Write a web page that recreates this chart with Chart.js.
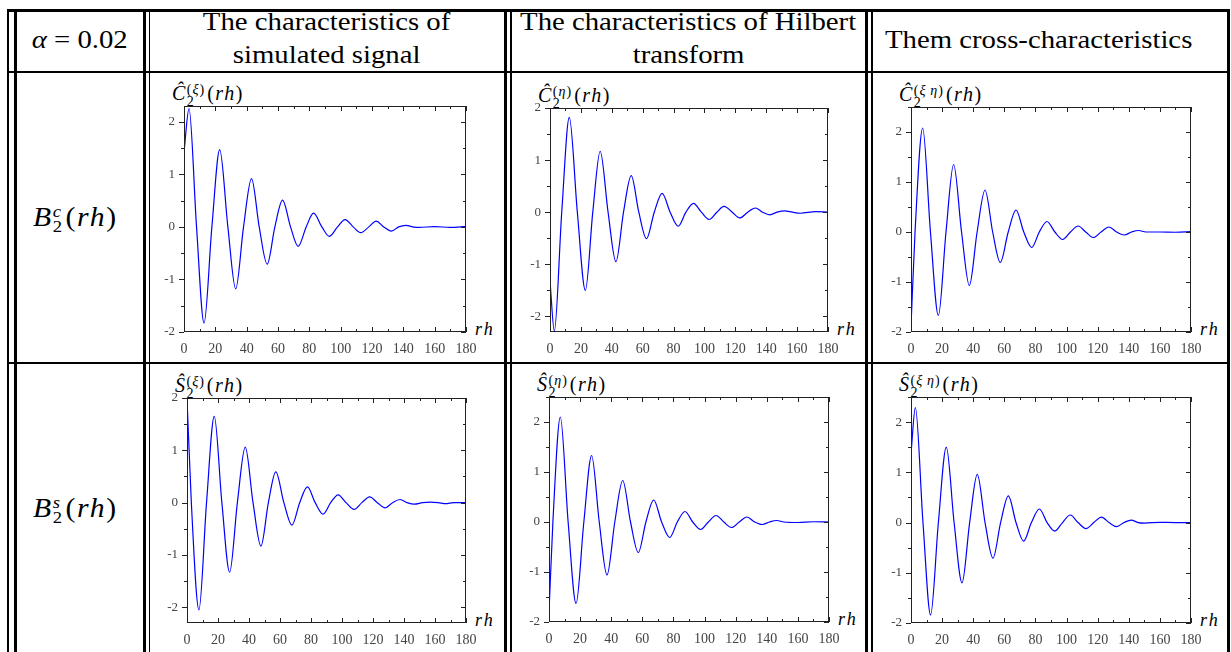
<!DOCTYPE html>
<html>
<head>
<meta charset="utf-8">
<script src="https://cdn.jsdelivr.net/npm/chart.js@4.4.1/dist/chart.umd.min.js"></script>
<style>
  body { margin:0; background:#fff; width:1231px; height:652px; overflow:hidden; position:relative;
         font-family:"Liberation Serif", "DejaVu Serif", serif; color:#000; }
  .ln { position:absolute; background:#000; }
  .hd { position:absolute; font-size:25px; line-height:26px; text-align:center; white-space:nowrap; }
  .hd span { display:inline-block; transform:scaleX(1.15); }
  canvas { position:absolute; }
  .ttl { position:absolute; white-space:nowrap; font-size:20px; line-height:30px; height:30px; letter-spacing:1.5px; }
  .ix { display:inline-flex; flex-direction:column; font-size:14px; line-height:12px; vertical-align:6px;
        margin-left:0; margin-right:2px; letter-spacing:1px; }
  .rh { position:absolute; font-size:18px; line-height:18px; font-style:italic; letter-spacing:2px; }
  .rl { position:absolute; white-space:nowrap; font-size:27px; line-height:40px; height:40px; letter-spacing:1.5px;
        transform-origin:left center; transform:scaleX(1.1); }
  .rl .ix { font-size:17px; line-height:15px; vertical-align:9px; margin-left:0; margin-right:2px; }
</style>
</head>
<body>
<div id="grid"></div>
<div id="labels"></div>
<div id="charts"></div>
<script>
// tick labels
const rhTicks = [0, 20, 40, 60, 80, 100, 120, 140, 160, 180];
const valTicks = [-2, -1, 0, 1, 2];

// row 1: cosine characteristics
const rhCxi = [0, 3.2, 8, 12.8, 17.8, 22.8, 28, 33, 38, 43.1, 48, 53.1, 58, 62.9, 68, 72.9, 78, 82.7, 88, 92.8, 98, 102.8, 108, 112.8, 118, 122.6, 127.5, 132.4, 137, 141.8, 146, 150, 160, 170, 180];
const cXi   = [1.42, 2.25, 0, -1.83, 0, 1.47, 0, -1.18, 0, 0.92, 0, -0.71, 0, 0.51, 0, -0.37, 0, 0.26, 0, -0.18, 0, 0.14, 0, -0.11, 0, 0.11, 0, -0.08, 0, 0.03, 0, -0.01, 0.005, -0.01, 0.01];

const rhCeta = [0, 2.8, 7.6, 12.5, 17.7, 22.9, 27.7, 32.5, 37.6, 42.7, 47.6, 52.6, 57.5, 62.5, 67.5, 72.6, 77.8, 83, 88, 92.9, 98, 103, 108, 112.7, 118, 122.9, 128, 133, 137.6, 142.3, 147, 152, 157, 162, 172, 180];
const cEta   = [-1.32, -2.28, 0, 1.82, 0, -1.5, 0, 1.17, 0, -0.95, 0, 0.7, 0, -0.51, 0, 0.36, 0, -0.27, 0, 0.17, 0, -0.14, 0, 0.11, 0, -0.11, 0, 0.08, 0, -0.05, 0, 0.025, 0, -0.02, 0.01, 0];

const rhCxe = [0, 2.6, 7.5, 12.5, 17.6, 22.5, 27.4, 32.5, 37.5, 42.5, 47.6, 52.5, 57.4, 62.5, 67.5, 72.5, 77.6, 82.5, 87.4, 92.5, 97.5, 102.5, 107.4, 112.3, 117.2, 122.2, 127.3, 132.2, 137.1, 141.8, 146.4, 151, 160, 170, 180];
const cXiEta = [-1.89, 0, 2.08, 0, -1.67, 0, 1.35, 0, -1.07, 0, 0.84, 0, -0.61, 0, 0.44, 0, -0.31, 0, 0.21, 0, -0.15, 0, 0.12, 0, -0.11, 0, 0.1, 0, -0.06, 0, 0.03, 0, 0, -0.005, 0.01];

// row 2: sine characteristics
const rhSxi = [0, 2.8, 7.7, 12.6, 17.6, 22.5, 27.5, 32.5, 37.6, 42.6, 47.7, 52.5, 57.3, 62.5, 67.7, 72.7, 77.7, 82.7, 87.8, 92.7, 97.5, 102.6, 107.8, 112.8, 117.9, 122.8, 127.8, 132.6, 137.5, 142, 146.7, 152, 157, 162, 167, 172, 180];
const sXi   = [1.99, 0, -2.05, 0, 1.65, 0, -1.33, 0, 1.06, 0, -0.83, 0, 0.59, 0, -0.43, 0, 0.3, 0, -0.22, 0, 0.15, 0, -0.13, 0, 0.11, 0, -0.1, 0, 0.06, 0, -0.03, 0, 0.01, 0, -0.02, 0, 0];

const rhSeta = [0, 2.5, 7.3, 12.3, 17.4, 22.4, 27.4, 32.3, 37.3, 42.3, 47.4, 52.4, 57.4, 62.3, 67.3, 72.4, 77.6, 82.5, 87.4, 92.4, 97.5, 102.4, 107.4, 112.4, 117.4, 122.3, 127.3, 132.2, 137.1, 141.7, 146.4, 151, 160, 170, 180];
const sEta   = [-1.8, 0, 2.1, 0, -1.63, 0, 1.33, 0, -1.06, 0, 0.83, 0, -0.61, 0, 0.44, 0, -0.31, 0, 0.21, 0, -0.15, 0, 0.13, 0, -0.11, 0, 0.1, 0, -0.05, 0, 0.03, 0, -0.01, 0.005, 0];

const rhSxe = [0, 2.8, 7.7, 12.6, 17.6, 22.7, 27.7, 32.8, 37.7, 42.6, 47.6, 52.7, 57.6, 62.6, 67.5, 72.4, 77.4, 82.5, 87.5, 92.4, 97.4, 102.4, 107.4, 112.5, 117.5, 122.4, 127.3, 132.2, 136.9, 141.6, 146, 150, 160, 170, 180];
const sXiEta = [1.37, 2.29, 0, -1.84, 0, 1.5, 0, -1.2, 0, 0.96, 0, -0.71, 0, 0.53, 0, -0.37, 0, 0.27, 0, -0.17, 0, 0.15, 0, -0.12, 0, 0.11, 0, -0.08, 0, 0.05, 0, -0.01, 0.005, 0, 0];

/* ---------- table frame ---------- */
const lines = [
  // [left, top, width, height]
  [7, 9, 1223, 3], [7, 71, 1223, 2], [7, 362, 1223, 2],
  [7, 9, 2, 643], [14, 9, 2.5, 643],
  [143, 9, 3, 643], [148.5, 9, 1.5, 643],
  [504, 9, 3, 643], [510, 9, 2, 643],
  [865, 9, 3, 643], [871, 9, 2, 643],
  [1227, 9, 3, 643]
];
const grid = document.getElementById('grid');
lines.forEach(([l, t, w, h]) => {
  const d = document.createElement('div');
  d.className = 'ln';
  d.style.cssText = `left:${l}px;top:${t}px;width:${w}px;height:${h}px`;
  grid.appendChild(d);
});

/* ---------- header + row labels ---------- */
const labels = document.getElementById('labels');
function addHtml(html){ labels.insertAdjacentHTML('beforeend', html); }

addHtml(`<div class="hd" style="left:16px;width:127px;top:27px"><span><i>α</i> = 0.02</span></div>`);
addHtml(`<div class="hd" style="left:150px;width:354px;top:9px"><span>The characteristics of</span></div>`);
addHtml(`<div class="hd" style="left:150px;width:354px;top:42px"><span>simulated signal</span></div>`);
addHtml(`<div class="hd" style="left:512px;width:353px;top:9px"><span>The characteristics of Hilbert</span></div>`);
addHtml(`<div class="hd" style="left:512px;width:353px;top:42px"><span>transform</span></div>`);
addHtml(`<div class="hd" style="left:885px;top:27px;text-align:left"><span style="transform-origin:left center">Them cross-characteristics</span></div>`);

function rowLabel(sup, cy){
  addHtml(`<div class="rl" style="left:33px;top:${cy - 20}px"><i>B</i><span class="ix"><i>${sup}</i><span>2</span></span>(<i>rh</i>)</div>`);
}
rowLabel('c', 217);
rowLabel('s', 508);

/* ---------- charts ---------- */
const panels = [
  { rh: rhCxi,  val: cXi,    yMin: -2,   yMax: 2.3, box: [184, 106, 466, 332], sym: 'Ĉ', idx: 'ξ' },
  { rh: rhCeta, val: cEta,   yMin: -2.3, yMax: 2,   box: [550, 108, 828, 332], sym: 'Ĉ', idx: 'η' },
  { rh: rhCxe,  val: cXiEta, yMin: -2,   yMax: 2.5, box: [911, 107, 1191, 332], sym: 'Ĉ', idx: 'ξ\u2009η' },
  { rh: rhSxi,  val: sXi,    yMin: -2.3, yMax: 2,   box: [187, 398, 466, 623], sym: 'Ŝ', idx: 'ξ' },
  { rh: rhSeta, val: sEta,   yMin: -2,   yMax: 2.5, box: [549, 397, 829, 622], sym: 'Ŝ', idx: 'η' },
  { rh: rhSxe,  val: sXiEta, yMin: -2,   yMax: 2.5, box: [911, 397, 1191, 623], sym: 'Ŝ', idx: 'ξ\u2009η' }
];

const PAD_L = 32, PAD_T = 6, PAD_R = 16, PAD_B = 26;

function noPad(s){ s.paddingTop = 0; s.paddingBottom = 0; s.paddingLeft = 0; s.paddingRight = 0; }

// frame + minor and major ticks
const boxTicks = {
  id: 'boxTicks',
  afterDatasetsDraw(chart){
    const { ctx, chartArea: a, scales: { x, y } } = chart;
    ctx.save();
    ctx.strokeStyle = '#222';
    ctx.lineWidth = 1;
    ctx.strokeRect(a.left + 0.5, a.top + 0.5, a.right - a.left - 1, a.bottom - a.top - 1);
    ctx.beginPath();
    for (let v = 0; v <= 180; v += 10){
      const px = Math.round(x.getPixelForValue(v)) + 0.5;
      const len = v % 20 === 0 ? 5 : 3;
      ctx.moveTo(px, a.bottom); ctx.lineTo(px, a.bottom - len);
      ctx.moveTo(px, a.top); ctx.lineTo(px, a.top + len);
    }
    for (let v = Math.ceil(y.min * 2) / 2; v <= y.max + 1e-9; v += 0.5){
      const py = Math.round(y.getPixelForValue(v)) + 0.5;
      const len = Number.isInteger(v) ? 5 : 3;
      ctx.moveTo(a.left, py); ctx.lineTo(a.left - len, py);
      ctx.moveTo(a.right, py); ctx.lineTo(a.right - len, py);
    }
    ctx.stroke();
    ctx.restore();
  }
};

const chartsDiv = document.getElementById('charts');
panels.forEach(p => {
  const [L, T, R, B] = p.box;
  const cv = document.createElement('canvas');
  const w = R - L + PAD_L + PAD_R, h = B - T + PAD_T + PAD_B;
  cv.width = w; cv.height = h;
  cv.style.cssText = `left:${L - PAD_L}px;top:${T - PAD_T}px;width:${w}px;height:${h}px`;
  chartsDiv.appendChild(cv);

  new Chart(cv, {
    type: 'line',
    data: { datasets: [{
      data: p.rh.map((x, i) => ({ x, y: p.val[i] })),
      borderColor: '#0000ff',
      borderWidth: 1.2,
      pointRadius: 0,
      fill: false,
      cubicInterpolationMode: 'monotone'
    }] },
    options: {
      responsive: false,
      animation: false,
      devicePixelRatio: 1,
      layout: { padding: { left: 0, top: PAD_T, right: PAD_R, bottom: 0 } },
      plugins: { legend: { display: false }, tooltip: { enabled: false } },
      scales: {
        x: {
          type: 'linear', min: 0, max: 180,
          afterBuildTicks: s => { s.ticks = rhTicks.map(v => ({ value: v })); },
          afterFit: s => { s.height = PAD_B; noPad(s); },
          grid: { display: false, drawTicks: false },
          border: { display: false },
          ticks: { color: '#444', padding: 9, maxRotation: 0, autoSkip: false,
                   font: { family: 'Liberation Serif', size: 14 } }
        },
        y: {
          min: p.yMin, max: p.yMax,
          afterBuildTicks: s => { s.ticks = valTicks.map(v => ({ value: v })); },
          afterFit: s => { s.width = PAD_L; noPad(s); },
          grid: { display: false, drawTicks: false },
          border: { display: false },
          ticks: { color: '#444', padding: 9,
                   font: { family: 'Liberation Serif', size: 13 } }
        }
      }
    },
    plugins: [boxTicks]
  });

  // panel title and rh axis name
  addHtml(`<div class="ttl" style="left:${L - 12}px;top:${T - 28}px"><i>${p.sym}</i><span class="ix"><span>(<i>${p.idx}</i>)</span><span>2</span></span>(<i>rh</i>)</div>`);
  addHtml(`<div class="rh" style="left:${R + 9}px;top:${B - 12}px">rh</div>`);
});
</script>
</body>
</html>
